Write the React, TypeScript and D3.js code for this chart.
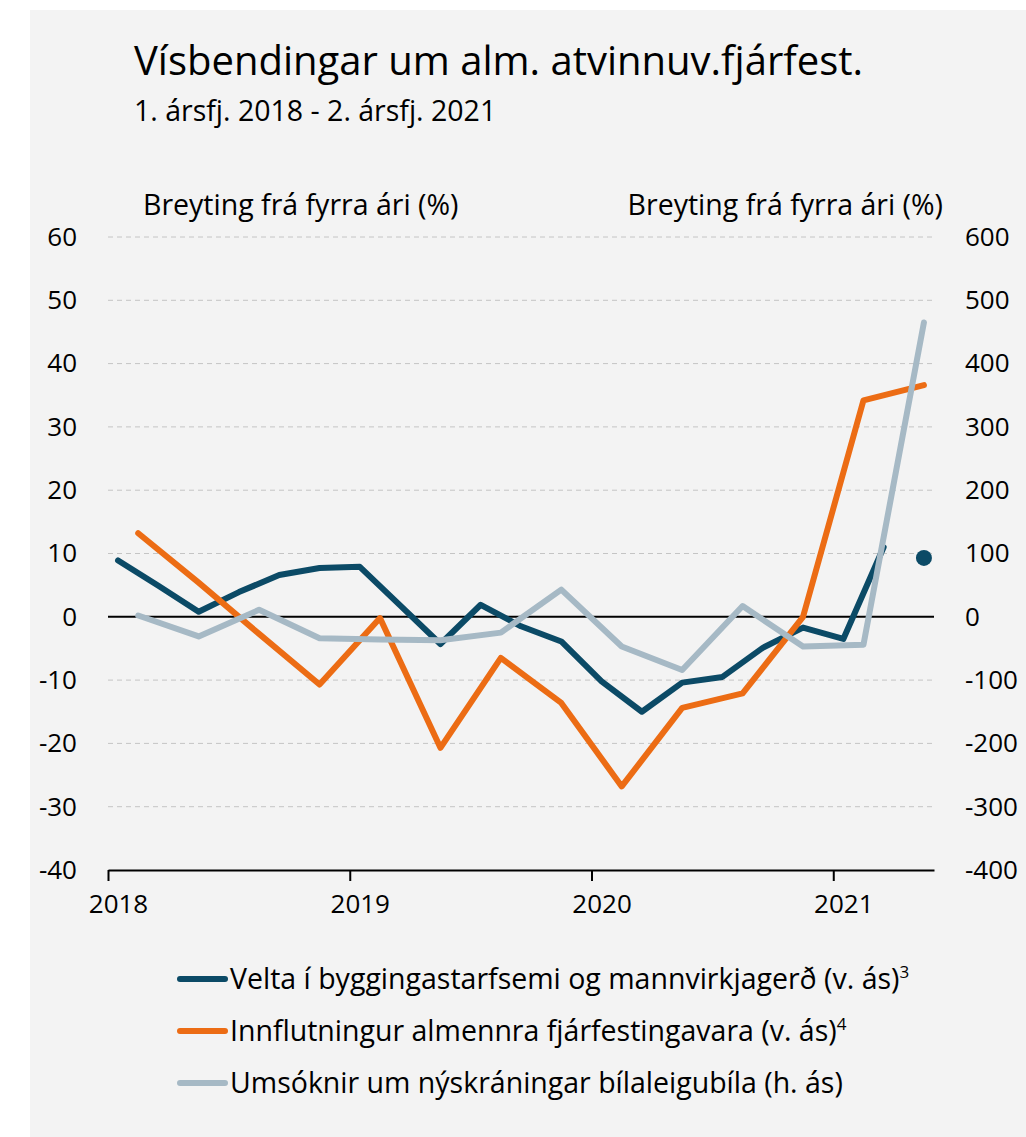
import React, { useEffect, useRef } from 'react';
import * as d3 from 'd3';

// Velta í byggingastarfsemi (bi-monthly VAT periods, left axis, %)
const veltaValues = [8.9, 4.9, 0.8, 3.9, 6.6, 7.7, 7.9, 1.8, -4.3, 1.9, -1.5, -3.9, -10.2, -15.0, -10.4, -9.5, -4.9, -1.7, -3.5, 11.0];
// single marker for 2. ársfj. 2021 (left axis)
const veltaMarker = 9.3;
// Innflutningur almennra fjárfestingavara (quarterly, left axis, %)
const innflutningurValues = [13.2, 5.4, -2.7, -10.7, -0.2, -20.7, -6.5, -13.6, -26.8, -14.4, -12.1, 0.0, 34.2, 36.6];
// Umsóknir um nýskráningar bílaleigubíla (quarterly, right axis, %)
const umsoknirValues = [2, -31, 11, -34, -36, -37, -25, 43, -47, -84, 17, -47, -44, 465];

const yearLabels = ['2018', '2019', '2020', '2021'];
const leftTicks = [60, 50, 40, 30, 20, 10, 0, -10, -20, -30, -40];
const rightTicks = [600, 500, 400, 300, 200, 100, 0, -100, -200, -300, -400];

const legendItems = [
  { label: 'Velta í byggingastarfsemi og mannvirkjagerð (v. ás)', sup: '3', color: '#0b4a66' },
  { label: 'Innflutningur almennra fjárfestingavara (v. ás)', sup: '4', color: '#ec6c14' },
  { label: 'Umsóknir um nýskráningar bílaleigubíla (h. ás)', sup: '', color: '#a6b9c5' },
];

const FONT = '"Open Sans", sans-serif';

function draw(node: SVGSVGElement) {
  const svg = d3.select(node);
  svg.selectAll('*').remove();

  // panel
  svg.append('rect')
     .attr('x', 30).attr('y', 10)
     .attr('width', 996).attr('height', 1127)
     .attr('fill', '#f3f3f3');

  // months since Jan 2018
  const x = d3.scaleLinear().domain([0, 41]).range([108, 934]);
  const yL = d3.scaleLinear().domain([-40, 60]).range([870, 237]);
  const yR = d3.scaleLinear().domain([-400, 600]).range([870, 237]);

  // titles
  svg.append('text').attr('x', 134).attr('y', 75)
     .attr('font-size', 40).attr('font-family', FONT).attr('fill', '#000')
     .text('Vísbendingar um alm. atvinnuv.fjárfest.');
  svg.append('text').attr('x', 134).attr('y', 121)
     .attr('font-size', 28.5).attr('font-family', FONT).attr('fill', '#000')
     .text('1. ársfj. 2018 - 2. ársfj. 2021');
  svg.append('text').attr('x', 143).attr('y', 215)
     .attr('font-size', 28.5).attr('font-family', FONT).attr('fill', '#000')
     .text('Breyting frá fyrra ári (%)');
  svg.append('text').attr('x', 943).attr('y', 215)
     .attr('text-anchor', 'end')
     .attr('font-size', 28.5).attr('font-family', FONT).attr('fill', '#000')
     .text('Breyting frá fyrra ári (%)');

  // grid
  svg.append('g')
     .selectAll('line')
     .data(leftTicks.filter(d => d !== 0 && d !== -40))
     .join('line')
     .attr('x1', 108).attr('x2', 934)
     .attr('y1', d => yL(d)).attr('y2', d => yL(d))
     .attr('stroke', '#c4c4c4').attr('stroke-width', 1)
     .attr('stroke-dasharray', '5,4');

  // zero line
  svg.append('line')
     .attr('x1', 108).attr('x2', 934)
     .attr('y1', yL(0)).attr('y2', yL(0))
     .attr('stroke', '#000').attr('stroke-width', 2);

  // left axis
  const left = svg.append('g')
     .attr('transform', 'translate(108,0)')
     .call(d3.axisLeft(yL).tickValues(leftTicks).tickSize(0).tickPadding(31)
       .tickFormat(d => String(d)));
  left.select('.domain').remove();

  // right axis
  const right = svg.append('g')
     .attr('transform', 'translate(934,0)')
     .call(d3.axisRight(yR).tickValues(rightTicks).tickSize(0).tickPadding(31)
       .tickFormat(d => String(d)));
  right.select('.domain').remove();

  // bottom axis
  const bottom = svg.append('g')
     .attr('transform', `translate(0,${yL(-40)})`)
     .call(d3.axisBottom(x)
       .tickValues([0, 12, 24, 36])
       .tickSize(11)
       .tickSizeOuter(0)
       .tickPadding(14)
       .tickFormat((d, i) => yearLabels[i]));
  bottom.select('.domain').attr('stroke', '#000').attr('stroke-width', 2);
  bottom.selectAll('.tick line').attr('stroke', '#000').attr('stroke-width', 2);
  bottom.selectAll('.tick text').attr('x', 10);

  svg.selectAll('.tick text')
     .attr('font-size', 26).attr('font-family', FONT).attr('fill', '#000');

  // series
  const lineL = d3.line<[number, number]>().x(d => x(d[0])).y(d => yL(d[1]));
  const lineR = d3.line<[number, number]>().x(d => x(d[0])).y(d => yR(d[1]));

  const velta: [number, number][] = veltaValues.map((v, i) => [2 * i + 0.5, v]);
  const innfl: [number, number][] = innflutningurValues.map((v, i) => [3 * i + 1.5, v]);
  const umsok: [number, number][] = umsoknirValues.map((v, i) => [3 * i + 1.5, v]);

  const series = [
    { d: lineL(velta), color: legendItems[0].color },
    { d: lineL(innfl), color: legendItems[1].color },
    { d: lineR(umsok), color: legendItems[2].color },
  ];
  svg.append('g')
     .selectAll('path')
     .data(series)
     .join('path')
     .attr('d', d => d.d)
     .attr('fill', 'none')
     .attr('stroke', d => d.color)
     .attr('stroke-width', 6)
     .attr('stroke-linejoin', 'round')
     .attr('stroke-linecap', 'round');

  svg.append('circle')
     .attr('cx', x(3 * 13 + 1.5)).attr('cy', yL(veltaMarker))
     .attr('r', 8).attr('fill', legendItems[0].color);

  // legend
  const leg = svg.append('g')
     .selectAll('g')
     .data(legendItems)
     .join('g')
     .attr('transform', (d, i) => `translate(0,${979 + i * 52})`);
  leg.append('line')
     .attr('x1', 180).attr('x2', 225)
     .attr('stroke', d => d.color).attr('stroke-width', 6)
     .attr('stroke-linecap', 'round');
  const lt = leg.append('text')
     .attr('x', 230).attr('y', 10)
     .attr('font-size', 28.5).attr('font-family', FONT).attr('fill', '#000');
  lt.append('tspan').text(d => d.label);
  lt.append('tspan')
     .attr('font-size', 17).attr('dy', -11)
     .text(d => d.sup);
}

export default function App() {
  const ref = useRef<SVGSVGElement>(null);
  useEffect(() => {
    if (ref.current) draw(ref.current);
  }, []);
  return (
    <svg ref={ref} width={1026} height={1137}
         style={{ position: 'absolute', left: 0, top: 0, display: 'block' }} />
  );
}
